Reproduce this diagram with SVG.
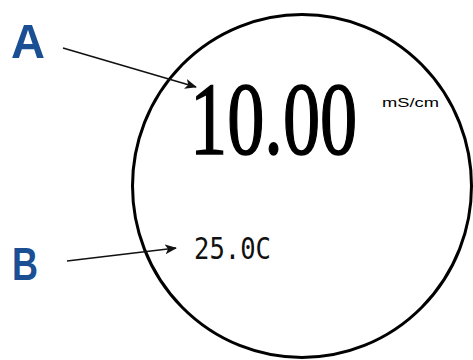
<svg xmlns="http://www.w3.org/2000/svg" width="473" height="360" viewBox="0 0 473 360">
<defs>
<style>
.lbl{font-family:"Liberation Sans",Arial,sans-serif;font-weight:bold;fill:#1b4f93}
.ln{stroke:#111;stroke-width:1.6;fill:none}
</style>
<marker id="ah" viewBox="0 0 12 10" refX="11" refY="5" markerWidth="12" markerHeight="10" markerUnits="userSpaceOnUse" orient="auto">
<path d="M0,0 L12,5 L0,10 L3,5 Z" fill="#111"/>
</marker>
</defs>
<rect width="473" height="360" fill="#fff"/>
<g id="display">
<ellipse cx="302" cy="186" rx="169.5" ry="171.5" fill="none" stroke="#000" stroke-width="3"/>
<text transform="translate(190,154) scale(0.715,1)" x="0" y="0" font-family="'Liberation Serif','Times New Roman',serif" font-size="104" fill="#000" stroke="#000" stroke-width="1.6">10.00</text>
<text x="382" y="107" font-family="'Liberation Sans',Arial,sans-serif" font-size="12.5" textLength="57" lengthAdjust="spacingAndGlyphs" fill="#000">mS/cm</text>
<text x="194" y="259" font-family="'DejaVu Sans Mono',monospace" font-size="30" textLength="77" lengthAdjust="spacingAndGlyphs" fill="#111">25.0C</text>
</g>
<g id="A"><text class="lbl" x="11" y="58" font-size="49" textLength="34" lengthAdjust="spacingAndGlyphs">A</text></g>
<g id="B"><text class="lbl" x="12" y="280" font-size="46" textLength="26" lengthAdjust="spacingAndGlyphs">B</text></g>
<g id="connectors">
<line class="ln" x1="63" y1="48" x2="196" y2="87" marker-end="url(#ah)"/>
<line class="ln" x1="67" y1="261" x2="176" y2="248" marker-end="url(#ah)"/>
</g>
</svg>
